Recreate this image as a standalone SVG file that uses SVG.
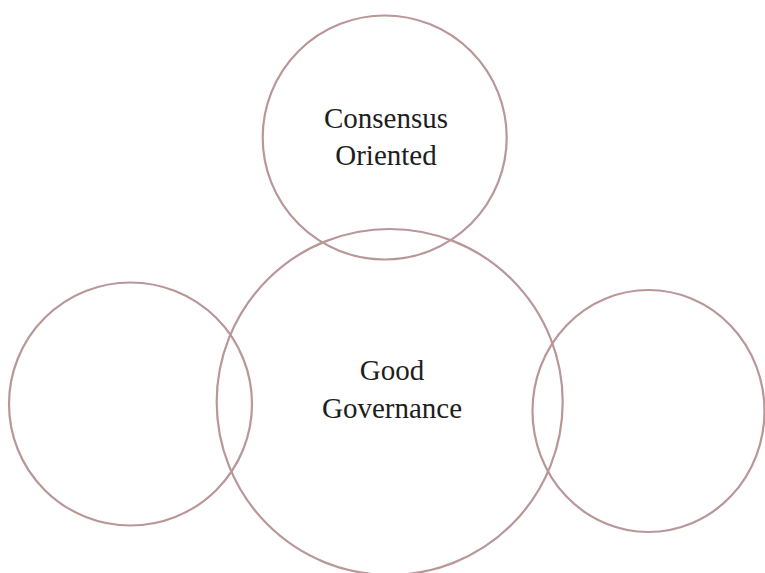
<svg xmlns="http://www.w3.org/2000/svg" width="765" height="573" viewBox="0 0 765 573">
<style>
.c{fill:none;stroke:#b99799;stroke-width:2.2}
.t{font-family:"Liberation Serif","Times New Roman",serif;font-size:29px;fill:#1e1e1e;text-anchor:middle}
</style>
<rect width="765" height="573" fill="#ffffff"/>
<g id="consensus">
<circle class="c" cx="384.7" cy="137.5" r="122"/>
<text class="t" x="386" y="128">Consensus</text>
<text class="t" x="386" y="165">Oriented</text>
</g>
<g id="good-governance">
<circle class="c" cx="389.7" cy="402" r="173"/>
<text class="t" x="392" y="380">Good</text>
<text class="t" x="392" y="418">Governance</text>
</g>
<g id="left">
<circle class="c" cx="130.5" cy="404" r="121.5"/>
</g>
<g id="right">
<ellipse class="c" cx="648.5" cy="411" rx="116" ry="121"/>
</g>
<g id="connectors"></g>
</svg>
